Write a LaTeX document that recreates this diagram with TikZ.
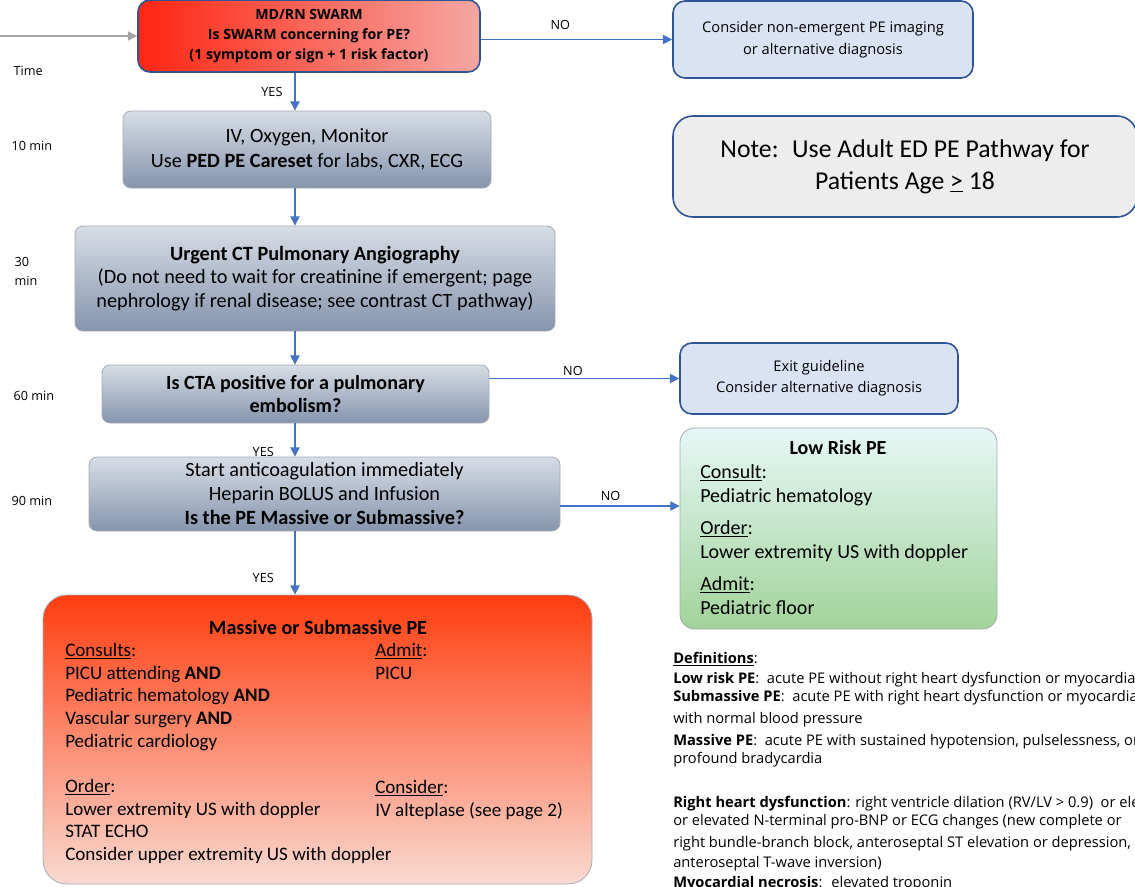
\documentclass[tikz,border=0pt]{standalone}
\usepackage{fontspec}
\setmainfont{Carlito}
\newfontfamily\uifont{Open Sans}
\usetikzlibrary{arrows.meta}
\definecolor{flowblue}{HTML}{4472C4}
\definecolor{darkblue}{HTML}{2F5597}
\definecolor{paleblue}{HTML}{DAE3F3}
\definecolor{notegrey}{HTML}{EDEDED}
\definecolor{arrowgrey}{HTML}{A6A6A6}
\definecolor{boxedge}{HTML}{A5AAB3}
\definecolor{greytop}{HTML}{D7DDE6}
\definecolor{greybot}{HTML}{8595AD}
\definecolor{swarmred}{HTML}{FF2612}
\definecolor{swarmpink}{HTML}{F5A7A3}
\definecolor{lowtop}{HTML}{E6F8F7}
\definecolor{lowbot}{HTML}{A2D39A}
\definecolor{masstop}{HTML}{FF3D0F}
\definecolor{massbot}{HTML}{F9DAD1}
\newcommand\fsz[2]{\fontsize{#1}{#2}\selectfont}

\begin{document}
\begin{tikzpicture}[x=0.75pt,y=-0.75pt,
  arr/.style={draw=flowblue, line width=0.8pt, -{Triangle[length=7pt,width=7pt]}},
  lbl/.style={font=\uifont\fsz{9.5pt}{14.25pt}, inner sep=1pt},
  greybox/.style={draw=boxedge, line width=0.6pt, top color=greytop, bottom color=greybot,
    rounded corners=6pt, inner sep=0pt, align=center},
  bluebox/.style={draw=darkblue, line width=1.2pt, fill=paleblue, rounded corners=9pt,
    inner sep=0pt, align=center},
  boxtext/.style={inner sep=0pt, align=left, anchor=north west}]
\useasboundingbox (0,0) rectangle (1135,886);

% time scale
\node[lbl, anchor=west] (t0) at (12,71) {Time};
\node[lbl, anchor=west] (t10) at (10,146) {10 min};
\node[lbl, anchor=west, align=left] (t30) at (13,271) {30\\min};
\node[lbl, anchor=west] (t60) at (12,396) {60 min};
\node[lbl, anchor=west] (t90) at (10,501) {90 min};

\coordinate (spine) at (295,0);
\coordinate (start) at (0,36);

% main column
\node[draw=darkblue, line width=1.2pt, left color=swarmred, right color=swarmpink,
  rounded corners=9pt, inner sep=0pt, align=center, minimum width=256.5pt, minimum height=54pt,
  font=\uifont\bfseries\fsz{10.6pt}{15pt}] (swarm) at (309,36)
  {MD/RN SWARM\\Is SWARM concerning for PE?\\(1 symptom or sign + 1 risk factor)};
\node[greybox, minimum width=276pt, minimum height=57.75pt, font=\fsz{15.2pt}{18.75pt}]
  (ivbox) at (307,149.5) {IV, Oxygen, Monitor\\Use \textbf{PED PE Careset} for labs, CXR, ECG};
\node[greybox, minimum width=360pt, minimum height=78.75pt, font=\fsz{15.2pt}{17.75pt}]
  (ctbox) at (315,278.5) {\textbf{Urgent CT Pulmonary Angiography}\\(Do not need to wait for creatinine if emergent; page\\nephrology if renal disease; see contrast CT pathway)};
\node[greybox, minimum width=290.25pt, minimum height=43.5pt, font=\bfseries\fsz{15.1pt}{17.25pt}]
  (ctaq) at (295.5,394) {Is CTA positive for a pulmonary\\embolism?};
\node[greybox, minimum width=353.25pt, minimum height=55.5pt, font=\fsz{15.2pt}{18pt}]
  (antic) at (324.5,494) {Start anticoagulation immediately\\Heparin BOLUS and Infusion\\\textbf{Is the PE Massive or Submassive?}};

% right column
\node[bluebox, minimum width=225pt, minimum height=57.75pt, font=\uifont\fsz{11pt}{16.5pt}]
  (nonemerg) at (823,39.5) {Consider non-emergent PE imaging\\or alternative diagnosis};
\node[draw=darkblue, line width=1.2pt, fill=notegrey, rounded corners=15pt, inner sep=0pt,
  align=center, minimum width=348pt, minimum height=75.75pt, font=\fsz{19.3pt}{24pt}]
  (note) at (905,166.5) {Note:~ Use Adult ED PE Pathway for\\Patients Age \underline{>} 18};
\node[bluebox, minimum width=208.5pt, minimum height=53.25pt, font=\uifont\fsz{11pt}{15.75pt}]
  (exit) at (819,378.5) {Exit guideline\\Consider alternative diagnosis};

% low risk
\node[draw=boxedge, line width=0.6pt, top color=lowtop, bottom color=lowbot, rounded corners=11pt,
  minimum width=237.75pt, minimum height=150.75pt] (lowrisk) at (838.5,528.5) {};
\node[font=\bfseries\fsz{15pt}{16pt}, inner sep=0pt] (lowtitle) at (838,448) {Low Risk PE};
\node[boxtext, font=\fsz{15pt}{18pt}] (lowtext) at (700,464)
  {\underline{Consult}:\\Pediatric hematology\\[6pt]\underline{Order}:\\Lower extremity US with doppler\\[6pt]\underline{Admit}:\\Pediatric floor};

% massive or submassive
\node[draw=boxedge, line width=0.6pt, top color=masstop, bottom color=massbot, rounded corners=18pt,
  minimum width=411.75pt, minimum height=216.75pt] (massive) at (317.5,739.5) {};
\node[font=\bfseries\fsz{15.1pt}{16pt}, inner sep=0pt] (masstitle) at (318,627) {Massive or Submassive PE};
\node[boxtext, font=\fsz{14.3pt}{17pt}] (masscons) at (65,643)
  {\underline{Consults}:\\PICU attending \textbf{AND}\\Pediatric hematology \textbf{AND}\\Vascular surgery \textbf{AND}\\Pediatric cardiology\\[17pt]\underline{Order}:\\Lower extremity US with doppler\\STAT ECHO\\Consider upper extremity US with doppler};
\node[boxtext, font=\fsz{14.3pt}{17pt}] (massadmit) at (375,643) {\underline{Admit}:\\PICU};
\node[boxtext, font=\fsz{14.3pt}{17pt}] (massconsider) at (375,780) {\underline{Consider}:\\IV alteplase (see page 2)};

% definitions
\node[boxtext, font=\uifont\fsz{11pt}{15pt}] (defs) at (673,652)
  {\underline{\textbf{Definitions}}:\\
   \textbf{Low risk PE}:~ acute PE without right heart dysfunction or myocardial\\[-1.5pt]
   \textbf{Submassive PE}:~ acute PE with right heart dysfunction or myocardial\\[1.5pt]
   with normal blood pressure\\[1.5pt]
   \textbf{Massive PE}:~ acute PE with sustained hypotension, pulselessness, or\\[-1.5pt]
   profound bradycardia\\[18pt]
   \textbf{Right heart dysfunction}: right ventricle dilation (RV/LV > 0.9)~ or elevated\\[-1.5pt]
   or elevated N-terminal pro-BNP or ECG changes (new complete or\\[1.5pt]
   right bundle-branch block, anteroseptal ST elevation or depression,\\
   anteroseptal T-wave inversion)\\
   \textbf{Myocardial necrosis}:~ elevated troponin};

% connectors
\draw[arr, draw=arrowgrey] (start) -- (swarm.west);
\draw[arr] (nonemerg.west -| swarm.east) -- (nonemerg.west) node[lbl, pos=0.415, above=6pt] (no1) {NO};
\draw[arr] (swarm.south -| spine) -- (ivbox.north -| spine) node[lbl, midway, left=8pt] (yes1) {YES};
\draw[arr] (ivbox.south -| spine) -- (ctbox.north -| spine);
\draw[arr] (ctbox.south -| spine) -- (ctaq.north -| spine);
\draw[arr] (exit.west -| ctaq.east) -- (exit.west) node[lbl, pos=0.44, above=1pt] (no2) {NO};
\draw[arr] (ctaq.south -| spine) -- (antic.north -| spine) node[lbl, pos=0.85, left=14.5pt] (yes2) {YES};
\draw[arr] ([yshift=-9pt]antic.east) coordinate (a3) -- (a3 -| lowrisk.west) node[lbl, pos=0.42, above=3pt] (no3) {NO};
\draw[arr] (antic.south -| spine) -- (massive.north -| spine) node[lbl, pos=0.73, left=14.5pt] (yes3) {YES};
\end{tikzpicture}
\end{document}
